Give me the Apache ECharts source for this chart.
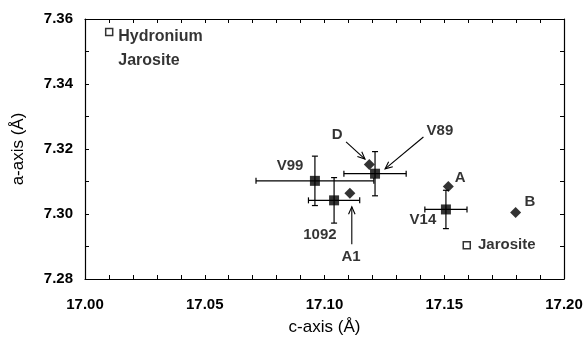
<!DOCTYPE html>
<html>
<head>
<meta charset="utf-8">
<script src="https://cdn.jsdelivr.net/npm/echarts@6/dist/echarts.min.js"></script>
<style>html,body{margin:0;padding:0;background:#fff}#c{width:586px;height:341px}</style>
</head>
<body>
<div id="c"></div>
<script>
// Samples with error bars: [name, c, a, cErr, aErr]
var sampleNames = ['V99', '1092', 'V89', 'V14'];
var sampleC = [17.0960, 17.1040, 17.1211, 17.1507];
var sampleA = [7.3102, 7.3042, 7.3124, 7.3014];
var sampleCErr = [0.0246, 0.0107, 0.0130, 0.0088];
var sampleAErr = [0.0076, 0.0070, 0.0068, 0.0059];

// Diamond points
var diamondNames = ['D', 'A1', 'A', 'B'];
var diamondC = [17.1187, 17.1106, 17.1517, 17.1798];
var diamondA = [7.3152, 7.3064, 7.3085, 7.3005];

// Reference (open squares)
var refNames = ['Hydronium Jarosite', 'Jarosite'];
var refC = [17.0101, 17.1594];
var refA = [7.3560, 7.2904];

// Annotation labels
var labelTexts = ['D', 'V89', 'V99', '1092', 'A1', 'A', 'B', 'V14', 'Jarosite', 'Hydronium\nJarosite'];
var labelC = [17.1053, 17.1482, 17.0856, 17.0981, 17.1111, 17.1566, 17.1858, 17.1411, 17.1641, 17.0139];
var labelA = [7.3245, 7.3257, 7.3147, 7.2937, 7.2868, 7.3112, 7.3037, 7.2982, 7.2904, 7.3510];

// Arrows: from (c1,a1) to (c2,a2)
var arrowFromC = [17.1090, 17.1413, 17.1114];
var arrowFromA = [7.3222, 7.3237, 7.2907];
var arrowToC = [17.1169, 17.1253, 17.1114];
var arrowToA = [7.3169, 7.3139, 7.3022];

var xTicks = [17.00, 17.05, 17.10, 17.15, 17.20];
var yTicks = [7.28, 7.30, 7.32, 7.34, 7.36];

var FONT = "'Liberation Sans', Arial, sans-serif";
var chart = echarts.init(document.getElementById('c'), null, {renderer: 'canvas'});

var errData = sampleNames.map(function (n, i) {
  return [sampleC[i], sampleA[i], sampleCErr[i], sampleAErr[i]];
});
var arrowData = arrowFromC.map(function (v, i) {
  return [arrowFromC[i], arrowFromA[i], arrowToC[i], arrowToA[i]];
});
var labelData = labelTexts.map(function (t, i) {
  var item = {name: t, value: [labelC[i], labelA[i]]};
  if (t === 'Jarosite') {
    item.label = {align: 'left'};
  }
  if (t.indexOf('Hydronium') === 0) {
    item.label = {align: 'left', fontSize: 16, lineHeight: 24};
  }
  return item;
});

var axisLineStyle = {color: '#000', width: 1.2};
function xAxisCfg(pos, showLabel) {
  return {
    type: 'value', position: pos, min: 17.00, max: 17.20, interval: 0.05,
    axisLine: {show: true, onZero: false, lineStyle: axisLineStyle},
    axisTick: {show: true, inside: true, length: 4, lineStyle: {color: '#000'}},
    minorTick: {show: true, splitNumber: 5, length: 4, lineStyle: {color: '#000'}},
    splitLine: {show: false}, minorSplitLine: {show: false},
    axisLabel: {show: showLabel, margin: 18, color: '#000', fontSize: 15, fontWeight: 'bold', fontFamily: FONT,
      formatter: function (v) { return v.toFixed(2); }},
    name: showLabel ? 'c-axis (Å)' : '', nameLocation: 'middle', nameGap: 40,
    nameTextStyle: {color: '#000', fontSize: 17, fontFamily: FONT}
  };
}
function yAxisCfg(pos, showLabel) {
  return {
    type: 'value', position: pos, min: 7.28, max: 7.36, interval: 0.02,
    axisLine: {show: true, onZero: false, lineStyle: axisLineStyle},
    axisTick: {show: true, inside: true, length: 4, lineStyle: {color: '#000'}},
    minorTick: {show: true, splitNumber: 2, length: 4, lineStyle: {color: '#000'}},
    splitLine: {show: false}, minorSplitLine: {show: false},
    axisLabel: {show: showLabel, margin: 12, color: '#000', fontSize: 15, fontWeight: 'bold', fontFamily: FONT,
      formatter: function (v) { return v.toFixed(2); }},
    name: showLabel ? 'a-axis (Å)' : '', nameLocation: 'middle', nameGap: 58,
    nameTextStyle: {color: '#000', fontSize: 17, fontFamily: FONT}
  };
}

var option = {
  animation: false,
  backgroundColor: '#fff',
  grid: {left: 85, right: 22, top: 19, bottom: 56},
  xAxis: [xAxisCfg('bottom', true), xAxisCfg('top', false)],
  yAxis: [yAxisCfg('left', true), yAxisCfg('right', false)],
  series: [
    {
      type: 'custom', name: 'errorbars', data: errData, z: 2,
      renderItem: function (params, api) {
        var c = api.value(0), a = api.value(1), ce = api.value(2), ae = api.value(3);
        var l = api.coord([c - ce, a]), r = api.coord([c + ce, a]);
        var t = api.coord([c, a + ae]), b = api.coord([c, a - ae]);
        var cap = 3;
        var st = {stroke: '#000', lineWidth: 1.2};
        return {type: 'group', children: [
          {type: 'line', shape: {x1: l[0], y1: l[1], x2: r[0], y2: r[1]}, style: st},
          {type: 'line', shape: {x1: l[0], y1: l[1] - cap, x2: l[0], y2: l[1] + cap}, style: st},
          {type: 'line', shape: {x1: r[0], y1: r[1] - cap, x2: r[0], y2: r[1] + cap}, style: st},
          {type: 'line', shape: {x1: t[0], y1: t[1], x2: b[0], y2: b[1]}, style: st},
          {type: 'line', shape: {x1: t[0] - cap, y1: t[1], x2: t[0] + cap, y2: t[1]}, style: st},
          {type: 'line', shape: {x1: b[0] - cap, y1: b[1], x2: b[0] + cap, y2: b[1]}, style: st}
        ]};
      }
    },
    {
      type: 'scatter', name: 'samples', symbol: 'rect', symbolSize: 10, z: 3,
      itemStyle: {color: '#000'},
      data: sampleC.map(function (c, i) { return [c, sampleA[i]]; })
    },
    {
      type: 'scatter', name: 'diamonds', symbol: 'diamond', symbolSize: 11, z: 3,
      itemStyle: {color: '#000'},
      data: diamondC.map(function (c, i) { return [c, diamondA[i]]; })
    },
    {
      type: 'scatter', name: 'refs', symbol: 'rect', symbolSize: 7, z: 3,
      itemStyle: {color: '#fff', borderColor: '#000', borderWidth: 1.5},
      data: refC.map(function (c, i) { return [c, refA[i]]; })
    },
    {
      type: 'custom', name: 'arrows', data: arrowData, z: 4,
      renderItem: function (params, api) {
        var p1 = api.coord([api.value(0), api.value(1)]);
        var p2 = api.coord([api.value(2), api.value(3)]);
        var ang = Math.atan2(p2[1] - p1[1], p2[0] - p1[0]);
        var hl = 8, ha = 0.42;
        var h1 = [p2[0] - hl * Math.cos(ang - ha), p2[1] - hl * Math.sin(ang - ha)];
        var h2 = [p2[0] - hl * Math.cos(ang + ha), p2[1] - hl * Math.sin(ang + ha)];
        var st = {stroke: '#000', lineWidth: 1.1, fill: null};
        return {type: 'group', children: [
          {type: 'line', shape: {x1: p1[0], y1: p1[1], x2: p2[0], y2: p2[1]}, style: st},
          {type: 'polyline', shape: {points: [h1, p2, h2]}, style: st}
        ]};
      }
    },
    {
      type: 'scatter', name: 'labels', symbolSize: 0, z: 5, silent: true,
      label: {show: true, position: 'inside', formatter: '{b}', color: '#000',
        fontSize: 15, fontWeight: 'bold', fontFamily: FONT, align: 'center', verticalAlign: 'middle'},
      data: labelData
    }
  ]
};
chart.setOption(option);
</script>
</body>
</html>
